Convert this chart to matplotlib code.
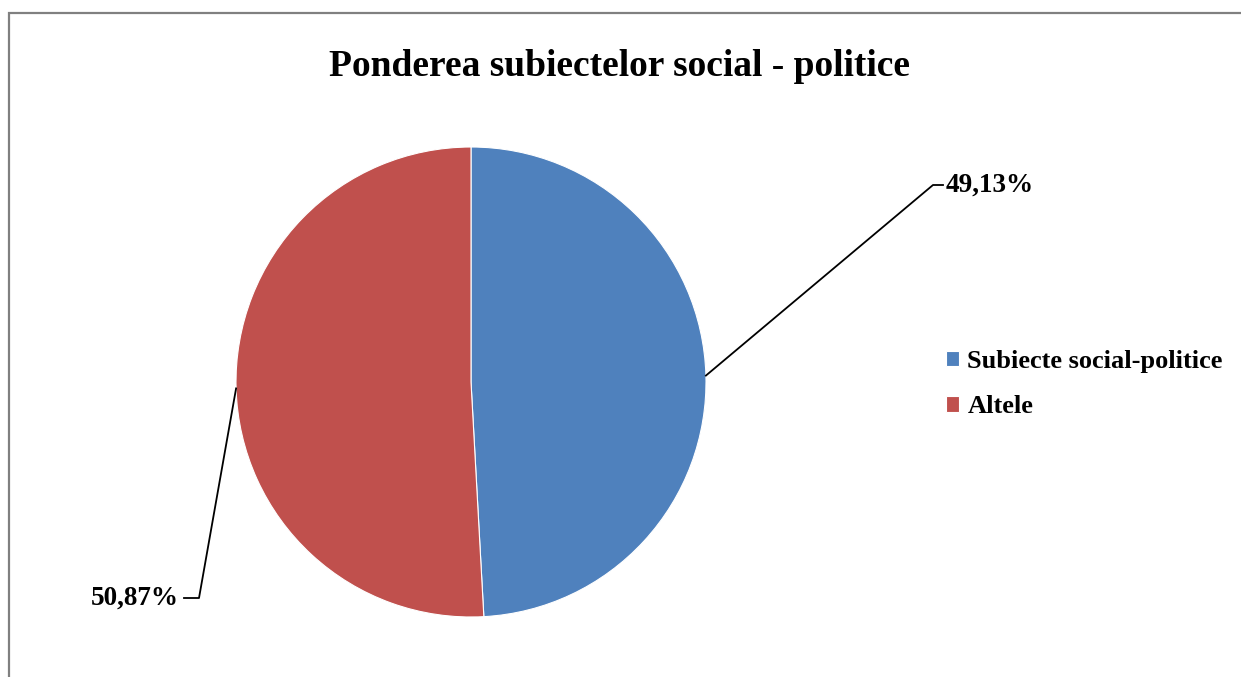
import matplotlib
matplotlib.use("Agg")
import matplotlib.pyplot as plt
from matplotlib.patches import Rectangle
import numpy as np

title = "Ponderea subiectelor social - politice"
categories = ["Subiecte social-politice", "Altele"]
values = [49.13, 50.87]
labels = ["49,13%", "50,87%"]
colors = ["#4F81BD", "#C0504D"]

plt.rcParams['font.family'] = ['Liberation Serif', 'DejaVu Serif']
W, H = 1241, 677
fig = plt.figure(figsize=(W / 100, H / 100), dpi=100)

# border
fig.patches.append(Rectangle((9 / W, -0.01), 1.05, (H - 13) / H + 0.01,
                             transform=fig.transFigure, fill=False,
                             edgecolor="#808080", linewidth=1.6))

cx, cy, r = 471, 382, 235
ax = fig.add_axes([(cx - r) / W, (H - cy - r) / H, 2 * r / W, 2 * r / H])

wedges, _ = ax.pie(values, colors=colors, startangle=90, counterclock=False,
                   radius=1, center=(0, 0),
                   wedgeprops=dict(edgecolor="white", linewidth=0.8))
ax.set_xlim(-1, 1)
ax.set_ylim(-1, 1)
ax.axis("off")

fig.text(0.499, (H - 67) / H, title, ha="center", va="center",
         fontsize=27, fontweight="bold")

# leader lines and labels
def px(x, y):
    return ((x - cx) / r, (cy - y) / r)

total = sum(values)
start = 90.0
mids = []
for v in values:
    span = v / total * 360
    mids.append(start - span / 2)
    start -= span

elbows = [(px(933, 185), px(943, 185), px(946, 185), "left"),
          (px(199, 598), px(184, 598), px(179, 598), "right")]
for lab, m, (e1, e2, tp, ha) in zip(labels, mids, elbows):
    a = np.deg2rad(m)
    p0 = (np.cos(a), np.sin(a))
    ax.plot([p0[0], e1[0], e2[0]], [p0[1], e1[1], e2[1]], color="black",
            linewidth=1.3, clip_on=False)
    ax.text(tp[0], tp[1], lab, ha=ha, va="center", fontsize=19.5,
            fontweight="bold", clip_on=False)

leg = fig.legend(wedges, categories, loc="upper left",
                 bbox_to_anchor=(922 / W, (H - 326) / H), frameon=False,
                 handlelength=0.52, handleheight=0.52, handletextpad=0.3,
                 labelspacing=0.85, prop=dict(size=19, weight="bold"))

fig.savefig("out.png", dpi=100)
